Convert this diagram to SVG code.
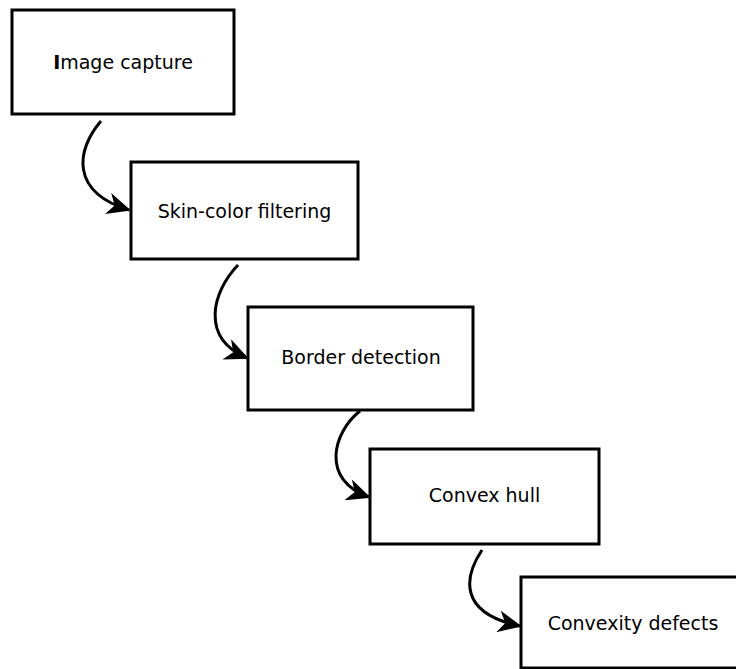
<svg xmlns="http://www.w3.org/2000/svg" width="736" height="669" viewBox="0 0 736 669">
<style>
.box{fill:#fff;stroke:#000;stroke-width:3}
.lbl{font-family:"DejaVu Sans",sans-serif;font-size:19px;fill:#000;text-anchor:middle}
.conn{fill:none;stroke:#000;stroke-width:3;marker-end:url(#ah)}
</style>
<defs>
<marker id="ah" viewBox="0 0 24 22" refX="22" refY="11" markerWidth="24" markerHeight="22" markerUnits="userSpaceOnUse" orient="auto">
<path d="M24,11 L0,0 L7,11 L0,22 Z" fill="#000"/>
</marker>
</defs>
<rect width="736" height="669" fill="#fff"/>
<g id="connectors">
<path class="conn" d="M101,121 C76,150 70,192 129,210"/>
<path class="conn" d="M238,265 C212,292 200,338 247,358"/>
<path class="conn" d="M360,411 C333,432 320,480 369,497"/>
<path class="conn" d="M482,550 C464,577 458,613 520,626"/>
</g>
<g id="n1"><rect class="box" x="12" y="10" width="222" height="104"/><text class="lbl" x="123" y="69"><tspan font-weight="bold">I</tspan>mage capture</text></g>
<g id="n2"><rect class="box" x="131" y="162" width="227" height="97"/><text class="lbl" x="244.5" y="218">Skin-color filtering</text></g>
<g id="n3"><rect class="box" x="248" y="307" width="225" height="103"/><text class="lbl" x="361" y="364">Border detection</text></g>
<g id="n4"><rect class="box" x="370" y="449" width="229" height="95"/><text class="lbl" x="484.5" y="502">Convex hull</text></g>
<g id="n5"><rect class="box" x="521" y="577" width="224" height="91"/><text class="lbl" x="633" y="630">Convexity defects</text></g>
</svg>
